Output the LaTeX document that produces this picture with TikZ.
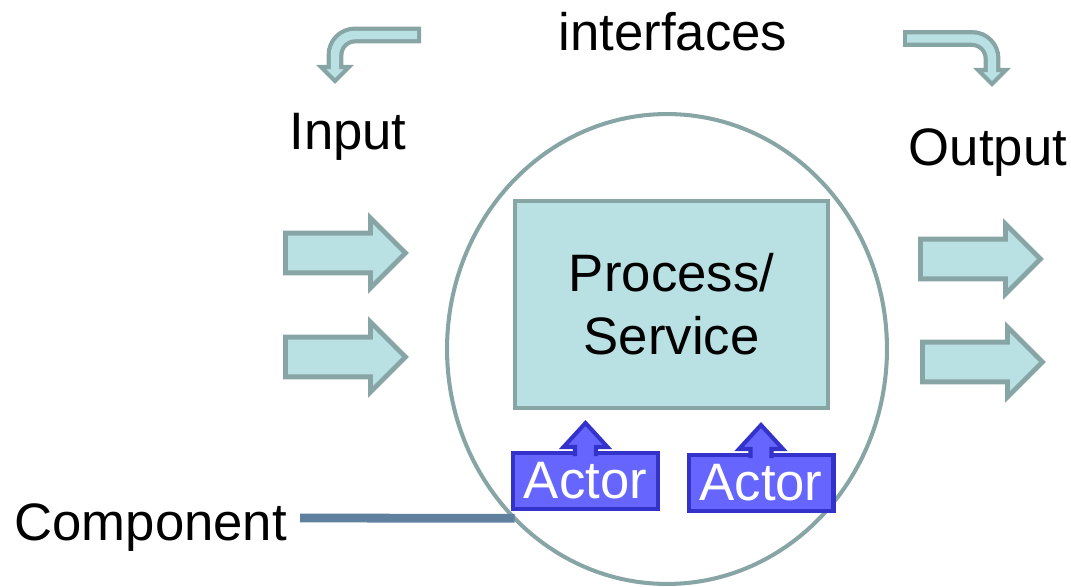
\documentclass[tikz,border=0pt]{standalone}
\usepackage{fontspec}
\setmainfont{Liberation Sans}
\usetikzlibrary{shapes.geometric,shapes.arrows,calc}
\definecolor{paleblue}{RGB}{185,224,227}
\definecolor{greyblue}{RGB}{136,165,166}
\definecolor{actorfill}{RGB}{102,102,255}
\definecolor{actorline}{RGB}{51,51,204}
\definecolor{slate}{RGB}{96,128,160}
\begin{document}
\begin{tikzpicture}[x=0.02cm, y=-0.02cm,
    every node/.style={font=\fontsize{30}{36}\selectfont, inner sep=0, outer sep=0},
    flow/.style={single arrow, draw=greyblue, fill=paleblue, line width=2.8pt,
      minimum height=2.4cm, inner ysep=0.35cm, single arrow head extend=0.3cm},
    actor/.style={draw=actorline, fill=actorfill, line width=2.3pt, text=white,
      minimum width=2.9cm, minimum height=1.12cm},
    turnshaft/.style={greyblue, line width=9.6pt, rounded corners=0.4cm},
    turncore/.style={paleblue, line width=4.8pt, rounded corners=0.4cm},
    turnhead/.style={draw=greyblue, fill=paleblue, line width=2.3pt}]
  \useasboundingbox (0,0) rectangle (1071,587);

  \node[draw=greyblue, line width=2.3pt, ellipse, minimum width=8.8cm,
    minimum height=9.4cm] (component) at (667,349) {};
  \node[draw=greyblue, fill=paleblue, line width=2.3pt, minimum width=6.26cm,
    minimum height=4.14cm, align=center] (process) at (671.5,304.5) {Process/\\Service};

  \node[actor] (actor1) at (585.5,481) {Actor};
  \node[actor] (actor2) at (761,483) {Actor};
  \foreach \a in {actor1,actor2}
    \filldraw[draw=actorline, fill=actorfill, line width=2.3pt]
      ($(\a.north)+(-10.5,3)$) -- ++(0,-9) -- ++(-11.5,0) -- ($(\a.north)+(0,-30)$)
      -- ($(\a.north)+(22,-6)$) -- ++(-11.5,0) -- ++(0,9);

  \node[flow, anchor=tail] (in1) at (285.5,253) {};
  \node[flow, anchor=tail] (in2) at (285.5,357) {};
  \node[flow, anchor=tail] (out1) at (920.5,259) {};
  \node[flow, anchor=tail] (out2) at (922.5,362) {};

  \draw[turnshaft] (421,35) -- (335,35) -- (335,67);
  \filldraw[turnhead] (321,67) -- (335,81) -- (349,67) -- cycle;
  \draw[turncore] (417,35) -- (335,35) -- (335,71);

  \draw[turnshaft] (903,38.5) -- (992,38.5) -- (992,70);
  \filldraw[turnhead] (978,70) -- (992,84) -- (1006,70) -- cycle;
  \draw[turncore] (907,38.5) -- (992,38.5) -- (992,74);

  \node[anchor=base] (interfaces) at (673,51) {interfaces};
  \node[anchor=base] (input) at (348,150) {Input};
  \node[anchor=base] (output) at (988,166) {Output};
  \node[anchor=base east] (complabel) at (287,540) {Component};
  \draw[slate, line width=5pt] ($(complabel.base east)+(13,-22)$) -- (component.228);
\end{tikzpicture}
\end{document}
